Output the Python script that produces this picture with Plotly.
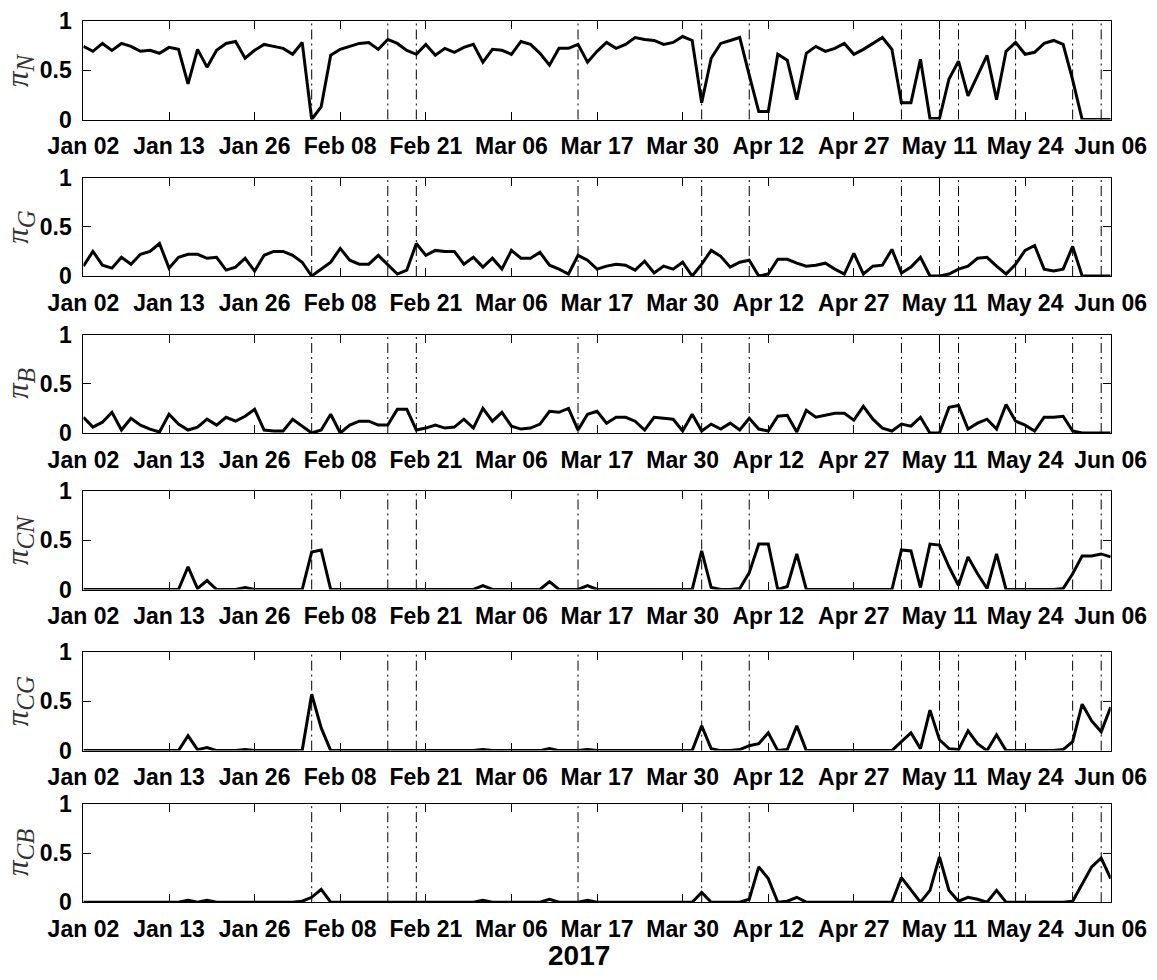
import pandas as pd
import plotly.graph_objects as go

# ---------------- data ----------------
all_days = pd.bdate_range("2017-01-02", "2017-06-06")
market_holidays = ["2017-04-14", "2017-04-17", "2017-05-01"]
trade_days = [d for d in all_days if d.strftime("%Y-%m-%d") not in market_holidays]
categories = [d.strftime("%Y-%m-%d") for d in trade_days]
tick_dates = categories[::9]
tick_labels = [d.strftime("%b %d") for d in trade_days[::9]]

events = ["2017-02-03", "2017-02-15", "2017-02-20", "2017-03-15", "2017-04-03", "2017-04-10",
          "2017-05-05", "2017-05-11", "2017-05-15", "2017-05-23", "2017-05-31", "2017-06-05"]

pi_N = [0.74, 0.69, 0.77, 0.70, 0.77, 0.74, 0.69, 0.70, 0.67, 0.73,
        0.71, 0.36, 0.71, 0.53, 0.70, 0.77, 0.79, 0.62, 0.70, 0.76,
        0.74, 0.72, 0.66, 0.78, 0.00, 0.13, 0.65, 0.71, 0.74, 0.77,
        0.78, 0.71, 0.81, 0.77, 0.70, 0.66, 0.76, 0.65, 0.72, 0.68,
        0.73, 0.76, 0.58, 0.71, 0.70, 0.66, 0.79, 0.76, 0.67, 0.55,
        0.72, 0.72, 0.76, 0.58, 0.69, 0.78, 0.72, 0.76, 0.83, 0.81,
        0.80, 0.76, 0.78, 0.84, 0.80, 0.17, 0.62, 0.77, 0.80, 0.83,
        0.45, 0.08, 0.08, 0.66, 0.60, 0.20, 0.67, 0.74, 0.69, 0.72,
        0.77, 0.66, 0.71, 0.77, 0.83, 0.71, 0.17, 0.17, 0.61, 0.01,
        0.01, 0.41, 0.59, 0.24, 0.45, 0.65, 0.20, 0.69, 0.78, 0.66,
        0.68, 0.77, 0.80, 0.76, 0.40, 0.00, 0.00, 0.00, 0.00]

pi_G = [0.10, 0.25, 0.11, 0.08, 0.19, 0.12, 0.22, 0.25, 0.33, 0.08,
        0.19, 0.22, 0.22, 0.18, 0.19, 0.06, 0.09, 0.18, 0.05, 0.21,
        0.25, 0.25, 0.21, 0.14, 0.00, 0.07, 0.14, 0.28, 0.16, 0.12,
        0.12, 0.21, 0.12, 0.02, 0.06, 0.33, 0.21, 0.26, 0.25, 0.25,
        0.12, 0.19, 0.09, 0.18, 0.07, 0.26, 0.18, 0.18, 0.24, 0.11,
        0.07, 0.02, 0.21, 0.16, 0.07, 0.10, 0.12, 0.11, 0.06, 0.15,
        0.03, 0.10, 0.07, 0.14, 0.00, 0.12, 0.26, 0.20, 0.09, 0.14,
        0.16, 0.00, 0.02, 0.17, 0.17, 0.13, 0.10, 0.11, 0.13, 0.07,
        0.02, 0.23, 0.02, 0.10, 0.11, 0.27, 0.03, 0.09, 0.19, 0.00,
        0.00, 0.02, 0.07, 0.10, 0.18, 0.19, 0.10, 0.02, 0.12, 0.26,
        0.31, 0.07, 0.05, 0.07, 0.30, 0.00, 0.00, 0.00, 0.00]

pi_B = [0.16, 0.06, 0.11, 0.21, 0.03, 0.15, 0.08, 0.04, 0.01, 0.19,
        0.09, 0.03, 0.06, 0.14, 0.08, 0.16, 0.12, 0.17, 0.24, 0.03,
        0.02, 0.02, 0.14, 0.07, 0.00, 0.03, 0.19, 0.00, 0.08, 0.12,
        0.12, 0.08, 0.08, 0.24, 0.24, 0.03, 0.05, 0.08, 0.05, 0.06,
        0.14, 0.05, 0.25, 0.12, 0.21, 0.07, 0.04, 0.05, 0.09, 0.22,
        0.21, 0.25, 0.03, 0.19, 0.22, 0.10, 0.16, 0.16, 0.12, 0.03,
        0.16, 0.15, 0.14, 0.02, 0.19, 0.02, 0.09, 0.04, 0.10, 0.03,
        0.15, 0.04, 0.02, 0.17, 0.18, 0.01, 0.23, 0.16, 0.18, 0.20,
        0.20, 0.13, 0.27, 0.14, 0.05, 0.02, 0.09, 0.07, 0.16, 0.00,
        0.00, 0.26, 0.28, 0.04, 0.10, 0.14, 0.04, 0.29, 0.12, 0.08,
        0.02, 0.16, 0.16, 0.17, 0.02, 0.00, 0.00, 0.00, 0.00]

pi_CN = [0.00, 0.00, 0.00, 0.00, 0.00, 0.00, 0.00, 0.00, 0.00, 0.00,
         0.00, 0.23, 0.01, 0.09, 0.00, 0.00, 0.00, 0.02, 0.00, 0.00,
         0.00, 0.00, 0.00, 0.00, 0.38, 0.40, 0.00, 0.00, 0.00, 0.00,
         0.00, 0.00, 0.00, 0.00, 0.00, 0.00, 0.00, 0.00, 0.00, 0.00,
         0.00, 0.00, 0.04, 0.00, 0.00, 0.00, 0.00, 0.00, 0.00, 0.08,
         0.00, 0.00, 0.00, 0.04, 0.00, 0.00, 0.00, 0.00, 0.00, 0.00,
         0.00, 0.00, 0.00, 0.00, 0.00, 0.39, 0.02, 0.00, 0.00, 0.01,
         0.17, 0.46, 0.46, 0.00, 0.03, 0.36, 0.00, 0.00, 0.00, 0.00,
         0.00, 0.00, 0.00, 0.00, 0.00, 0.00, 0.40, 0.39, 0.02, 0.46,
         0.45, 0.23, 0.04, 0.33, 0.16, 0.01, 0.36, 0.00, 0.00, 0.00,
         0.00, 0.00, 0.00, 0.01, 0.16, 0.34, 0.34, 0.36, 0.33]

pi_CG = [0.00, 0.00, 0.00, 0.00, 0.00, 0.00, 0.00, 0.00, 0.00, 0.00,
         0.00, 0.15, 0.01, 0.03, 0.00, 0.00, 0.00, 0.01, 0.00, 0.00,
         0.00, 0.00, 0.00, 0.00, 0.57, 0.23, 0.00, 0.00, 0.00, 0.00,
         0.00, 0.00, 0.00, 0.00, 0.00, 0.00, 0.00, 0.00, 0.00, 0.00,
         0.00, 0.00, 0.01, 0.00, 0.00, 0.00, 0.00, 0.00, 0.00, 0.02,
         0.00, 0.00, 0.00, 0.01, 0.00, 0.00, 0.00, 0.00, 0.00, 0.00,
         0.00, 0.00, 0.00, 0.00, 0.00, 0.25, 0.02, 0.00, 0.00, 0.01,
         0.05, 0.07, 0.18, 0.00, 0.01, 0.25, 0.00, 0.00, 0.00, 0.00,
         0.00, 0.00, 0.00, 0.00, 0.00, 0.00, 0.09, 0.18, 0.02, 0.41,
         0.11, 0.02, 0.01, 0.20, 0.07, 0.00, 0.16, 0.00, 0.00, 0.00,
         0.00, 0.00, 0.00, 0.01, 0.09, 0.47, 0.30, 0.19, 0.44]

pi_CB = [0.00, 0.00, 0.00, 0.00, 0.00, 0.00, 0.00, 0.00, 0.00, 0.00,
         0.00, 0.02, 0.00, 0.02, 0.00, 0.00, 0.00, 0.00, 0.00, 0.00,
         0.00, 0.00, 0.00, 0.01, 0.05, 0.13, 0.00, 0.00, 0.00, 0.00,
         0.00, 0.00, 0.00, 0.00, 0.00, 0.00, 0.00, 0.00, 0.00, 0.00,
         0.00, 0.00, 0.02, 0.00, 0.00, 0.00, 0.00, 0.00, 0.00, 0.03,
         0.00, 0.00, 0.00, 0.02, 0.00, 0.00, 0.00, 0.00, 0.00, 0.00,
         0.00, 0.00, 0.00, 0.00, 0.00, 0.10, 0.00, 0.00, 0.00, 0.00,
         0.03, 0.36, 0.24, 0.00, 0.01, 0.05, 0.00, 0.00, 0.00, 0.00,
         0.00, 0.00, 0.00, 0.00, 0.00, 0.00, 0.25, 0.12, 0.00, 0.12,
         0.46, 0.12, 0.01, 0.05, 0.03, 0.00, 0.12, 0.00, 0.00, 0.00,
         0.00, 0.00, 0.00, 0.00, 0.01, 0.19, 0.36, 0.45, 0.24]

series = [pi_N, pi_G, pi_B, pi_CN, pi_CG, pi_CB]
y_titles = ["N", "G", "B", "CN", "CG", "CB"]
y_tick_vals = [0, 0.5, 1]
y_tick_text = ["0", "0.5", "1"]
x_label = "2017"

# ---------------- layout ----------------
W, H = 1157, 980
x_left, x_right = 83.4, 1110.7
panel_px = [(20.7, 119.5), (177.5, 276.0), (334.5, 433.0), (490.7, 589.5), (651.8, 750.6), (804.0, 902.2)]

tick_font = dict(family="Liberation Sans", size=23, color="black", weight="bold")

fig = go.Figure()
layout = dict(
    width=W, height=H,
    margin=dict(l=0, r=0, t=0, b=0, pad=0, autoexpand=False),
    paper_bgcolor="white", plot_bgcolor="white",
    showlegend=False,
    shapes=[], annotations=[],
)

for i, (vals, sub) in enumerate(zip(series, y_titles), start=1):
    sfx = "" if i == 1 else str(i)
    top, bot = panel_px[i - 1]
    y_dom = [1 - bot / H, 1 - top / H]
    fig.add_trace(go.Scatter(
        x=categories, y=vals, mode="lines",
        line=dict(color="black", width=3),
        xaxis="x" + sfx, yaxis="y" + sfx,
        hoverinfo="skip",
    ))
    layout["xaxis" + sfx] = dict(
        domain=[x_left / W, x_right / W], anchor="y" + sfx,
        type="category", range=[0, len(categories) - 1],
        tickmode="array", tickvals=tick_dates, ticktext=tick_labels,
        ticks="inside", ticklen=8, tickwidth=1, tickcolor="black",
        showline=True, linecolor="black", linewidth=1, mirror="ticks",
        showgrid=False, zeroline=False, tickfont=tick_font,
        ticklabelstandoff=6, automargin=False,
    )
    layout["yaxis" + sfx] = dict(
        domain=y_dom, anchor="x" + sfx, range=[0, 1],
        tickmode="array", tickvals=y_tick_vals, ticktext=y_tick_text,
        ticks="inside", ticklen=8, tickwidth=1, tickcolor="black",
        showline=True, linecolor="black", linewidth=1, mirror="ticks",
        showgrid=False, zeroline=False, tickfont=tick_font,
        ticklabelstandoff=6, automargin=False,
    )
    for ev in events:
        layout["shapes"].append(dict(
            type="line", xref="x" + sfx, yref="y" + sfx + " domain",
            x0=ev, x1=ev, y0=0, y1=1, layer="below",
            line=dict(color="black", width=1, dash="10px,4px,2px,4px"),
        ))
    layout["annotations"].append(dict(
        xref="paper", yref="paper", x=20 / W, y=(y_dom[0] + y_dom[1]) / 2,
        text="<i>π</i><sub><span style='font-size:25px'><i>" + sub + "</i></span></sub>",
        showarrow=False, textangle=-90, xanchor="center", yanchor="middle",
        font=dict(family="Liberation Serif", size=31, color="#333333"),
    ))

layout["annotations"].append(dict(
    xref="paper", yref="paper", x=578.5 / W, y=1 - 955 / H,
    text=x_label, showarrow=False, xanchor="center", yanchor="middle",
    font=dict(family="Liberation Sans", size=28, color="black", weight="bold"),
))

fig.update_layout(**layout)
# remove the default page margin so the figure fills the window exactly
fig.write_html("out.html", config={"displayModeBar": False},
               post_script="document.body.style.margin='0px';")
